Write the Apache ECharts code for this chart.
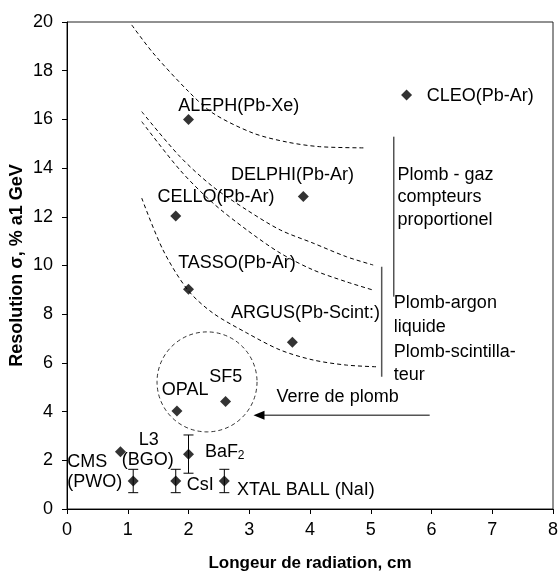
<!DOCTYPE html>
<html><head><meta charset="utf-8">
<script src="https://cdn.jsdelivr.net/npm/echarts@6/dist/echarts.min.js"></script>
<style>html,body{margin:0;padding:0;background:#fff}#c{width:558px;height:575px}</style>
</head><body><div id="c"></div>
<script>
// ---- data ----
const xTicks = [0, 1, 2, 3, 4, 5, 6, 7, 8];
const yTicks = [0, 2, 4, 6, 8, 10, 12, 14, 16, 18, 20];

// detectors with single points
const detectorNames = ['ALEPH', 'CLEO', 'DELPHI', 'CELLO', 'TASSO', 'ARGUS', 'OPAL', 'SF5', 'L3'];
const detectorX = [2.0, 5.59, 3.89, 1.79, 2.0, 3.71, 1.81, 2.61, 0.88];
const detectorY = [16.0, 17.0, 12.83, 12.03, 9.02, 6.85, 4.02, 4.41, 2.35];

// crystals with error bars
const crystalNames = ['CMS', 'CsI', 'BaF2', 'XTAL BALL'];
const crystalX = [1.09, 1.79, 2.0, 2.59];
const crystalY = [1.15, 1.15, 2.25, 1.15];
const crystalLow = [0.67, 0.67, 1.47, 0.67];
const crystalHigh = [1.63, 1.63, 3.04, 1.63];

// dashed guide curves
const curve1 = [[1.065, 19.88], [1.416, 18.73], [1.975, 17.21], [2.40, 16.26], [3.06, 15.44], [3.62, 15.07], [4.16, 14.88], [4.905, 14.83]];
const curve2 = [[1.23, 16.32], [1.86, 14.47], [2.40, 13.24], [2.96, 12.28], [3.51, 11.46], [4.05, 10.92], [4.60, 10.36], [5.04, 10.02]];
const curve3 = [[1.23, 15.91], [1.86, 13.92], [2.40, 12.57], [2.96, 11.46], [3.51, 10.51], [4.05, 9.82], [4.60, 9.33], [5.04, 8.99]];
const curve4 = [[1.23, 12.77], [1.58, 10.64], [1.99, 8.99], [2.40, 8.05], [2.96, 7.23], [3.51, 6.53], [4.05, 6.12], [4.60, 5.91], [5.10, 5.84]];

// grouping marks
const glassCircle = [[2.305, 5.22]];
const bracketA = [[5.38, 15.29], [5.38, 8.72]];
const bracketB = [[5.18, 9.95], [5.18, 5.43]];
const arrowFrom = [5.97, 3.85];
const arrowTo = [3.07, 3.85];

// text annotations
const labelTexts = ['ALEPH(Pb-Xe)', 'CLEO(Pb-Ar)', 'DELPHI(Pb-Ar)', 'CELLO(Pb-Ar)', 'TASSO(Pb-Ar)', 'ARGUS(Pb-Scint:)',
  'Plomb - gaz', 'compteurs', 'proportionel', 'Plomb-argon', 'liquide', 'Plomb-scintilla-', 'teur',
  'Verre de plomb', 'OPAL', 'SF5', 'L3', '(BGO)', 'CMS', '(PWO)', 'BaF', 'CsI', 'XTAL BALL (NaI)'];
const labelX = [1.83, 5.92, 2.70, 1.49, 1.83, 2.70, 5.44, 5.44, 5.44, 5.38, 5.38, 5.38, 5.38,
  3.45, 1.56, 2.34, 1.18, 0.90, 0.005, 0.005, 2.27, 1.97, 2.80];
const labelY = [16.55, 16.97, 13.72, 12.83, 10.09, 8.04, 13.72, 12.80, 11.87, 8.45, 7.49, 6.46, 5.50,
  4.61, 4.89, 5.43, 2.85, 2.03, 1.94, 1.12, 2.35, 0.99, 0.78];
const subTexts = ['2'];
const subX = [2.81];
const subY = [2.17];

// ---- chart ----
const FONT = '"Liberation Sans", Arial, sans-serif';
const chart = echarts.init(document.getElementById('c'), null, {renderer: 'canvas'});

const dashed = (d) => ({
  type: 'line', data: d, smooth: 0.3, showSymbol: false, silent: true,
  lineStyle: {color: '#000', width: 1, type: [4, 3]}
});
const solid = (d, color, w) => ({
  type: 'line', data: d, showSymbol: false, silent: true,
  lineStyle: {color: color, width: w}
});

const textSeries = (xs, ys, texts, size) => ({
  type: 'custom', silent: true, z: 10,
  data: xs.map((x, i) => [x, ys[i]]),
  renderItem: (params, api) => {
    const p = api.coord([api.value(0), api.value(1)]);
    return {
      type: 'text', x: p[0], y: p[1],
      style: {text: texts[params.dataIndex], fill: '#000', fontSize: size, fontFamily: FONT,
        align: 'left', verticalAlign: 'middle'}
    };
  }
});

const option = {
  animation: false,
  backgroundColor: '#fff',
  grid: {left: 67, right: 5, top: 22, bottom: 66, show: true, borderColor: '#222', borderWidth: 1,
    containLabel: false, outerBoundsMode: 'none'},
  xAxis: {
    type: 'value', min: xTicks[0], max: xTicks[xTicks.length - 1], interval: 1,
    name: 'Longeur de radiation, cm', nameLocation: 'middle', nameGap: 46, nameMoveOverlap: false,
    nameTextStyle: {fontFamily: FONT, fontWeight: 'bold', fontSize: 17, color: '#000'},
    axisLine: {lineStyle: {color: '#000', width: 1}},
    axisTick: {show: true, inside: false, length: 5, lineStyle: {color: '#000'}},
    axisLabel: {fontFamily: FONT, fontSize: 18, color: '#000', margin: 12, hideOverlap: false},
    splitLine: {show: false}
  },
  yAxis: {
    type: 'value', min: yTicks[0], max: yTicks[yTicks.length - 1], interval: 2,
    name: 'Resolution σ, % a1 GeV', nameLocation: 'middle', nameGap: 41, nameRotate: 90, nameMoveOverlap: false,
    nameTextStyle: {fontFamily: FONT, fontWeight: 'bold', fontSize: 18, color: '#000'},
    axisLine: {lineStyle: {color: '#000', width: 1}},
    axisTick: {show: true, inside: false, length: 5, lineStyle: {color: '#000'}},
    axisLabel: {fontFamily: FONT, fontSize: 18, color: '#000', margin: 14},
    splitLine: {show: false}
  },
  series: [
    dashed(curve1), dashed(curve2), dashed(curve3), dashed(curve4),
    {
      type: 'scatter', data: glassCircle, symbol: 'circle', symbolSize: 100, silent: true,
      itemStyle: {color: 'rgba(0,0,0,0)', borderColor: '#000', borderWidth: 1, borderType: [4, 3]}
    },
    solid(bracketA, '#000', 1),
    solid(bracketB, '#555', 1.5),
    {
      type: 'custom', silent: true,
      data: [[arrowFrom[0], arrowFrom[1], arrowTo[0], arrowTo[1]]],
      renderItem: (params, api) => {
        const a = api.coord([api.value(0), api.value(1)]);
        const b = api.coord([api.value(2), api.value(3)]);
        return {type: 'group', children: [
          {type: 'line', shape: {x1: a[0], y1: a[1], x2: b[0] + 8, y2: b[1]}, style: {stroke: '#555', lineWidth: 1.5}},
          {type: 'polygon', shape: {points: [[b[0], b[1]], [b[0] + 11, b[1] - 4.5], [b[0] + 11, b[1] + 4.5]]}, style: {fill: '#000'}}
        ]};
      }
    },
    {
      type: 'custom', silent: true,
      data: crystalX.map((x, i) => [x, crystalLow[i], crystalHigh[i]]),
      renderItem: (params, api) => {
        const lo = api.coord([api.value(0), api.value(1)]);
        const hi = api.coord([api.value(0), api.value(2)]);
        const st = {stroke: '#000', lineWidth: 1};
        return {type: 'group', children: [
          {type: 'line', shape: {x1: lo[0], y1: lo[1], x2: hi[0], y2: hi[1]}, style: st},
          {type: 'line', shape: {x1: lo[0] - 5, y1: lo[1], x2: lo[0] + 5, y2: lo[1]}, style: st},
          {type: 'line', shape: {x1: hi[0] - 5, y1: hi[1], x2: hi[0] + 5, y2: hi[1]}, style: st}
        ]};
      }
    },
    {
      type: 'scatter', symbol: 'diamond', symbolSize: 11, silent: true, z: 5,
      data: detectorX.map((x, i) => [x, detectorY[i]]),
      itemStyle: {color: '#000'}
    },
    {
      type: 'scatter', symbol: 'diamond', symbolSize: 11, silent: true, z: 5,
      data: crystalX.map((x, i) => [x, crystalY[i]]),
      itemStyle: {color: '#000'}
    },
    textSeries(labelX, labelY, labelTexts, 18),
    textSeries(subX, subY, subTexts, 12)
  ]
};
chart.setOption(option);
</script>
</body></html>
